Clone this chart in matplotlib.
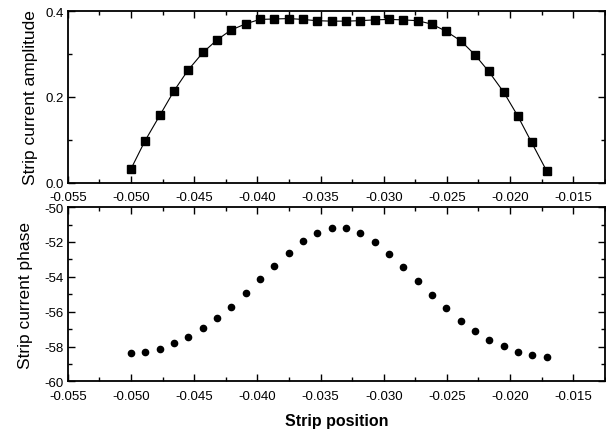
import numpy as np
import matplotlib.pyplot as plt
from matplotlib.ticker import MultipleLocator, FormatStrFormatter

plt.rcParams['font.family'] = ['Liberation Sans', 'DejaVu Sans']
plt.rcParams['axes.unicode_minus'] = False

# strip positions (shared by both panels)
position = [-0.0500, -0.0489, -0.0477, -0.0466, -0.0455, -0.0443, -0.0432, -0.0421,
            -0.0409, -0.0398, -0.0387, -0.0375, -0.0364, -0.0353, -0.0341, -0.0330,
            -0.0319, -0.0307, -0.0296, -0.0285, -0.0273, -0.0262, -0.0251, -0.0239,
            -0.0228, -0.0217, -0.0205, -0.0194, -0.0183, -0.0171]

amplitude = [0.032, 0.097, 0.158, 0.214, 0.262, 0.304, 0.333, 0.356, 0.371, 0.381,
             0.382, 0.383, 0.381, 0.378, 0.377, 0.377, 0.378, 0.380, 0.381, 0.380,
             0.378, 0.370, 0.354, 0.331, 0.299, 0.260, 0.211, 0.156, 0.094, 0.027]

phase = [-58.39, -58.30, -58.13, -57.82, -57.45, -56.95, -56.38, -55.71, -54.93, -54.14,
         -53.36, -52.63, -51.92, -51.48, -51.21, -51.21, -51.48, -52.01, -52.67, -53.43,
         -54.25, -55.06, -55.79, -56.52, -57.09, -57.61, -57.99, -58.30, -58.47, -58.60]


def style_axes(ax):
    ax.set_xlim(-0.055, -0.0125)
    ax.xaxis.set_major_locator(MultipleLocator(0.005))
    ax.xaxis.set_minor_locator(MultipleLocator(0.0025))
    ax.xaxis.set_major_formatter(FormatStrFormatter('%.3f'))
    ax.tick_params(which='both', direction='in', top=True, right=True,
                   labelsize=9.5, width=1.0)
    ax.tick_params(axis='x', pad=6)
    ax.tick_params(axis='y', pad=3)
    ax.tick_params(which='major', length=5)
    ax.tick_params(which='minor', length=3)
    for s in ax.spines.values():
        s.set_linewidth(1.3)


fig = plt.figure(figsize=(6.06, 4.39), dpi=100)

ax1 = fig.add_axes([0.112, 0.582, 0.886, 0.390])
ax1.plot(position, amplitude, '-', color='black', lw=0.8,
         marker='s', markersize=5.5)
ax1.set_ylim(0.0, 0.4)
ax1.yaxis.set_major_locator(MultipleLocator(0.2))
ax1.yaxis.set_minor_locator(MultipleLocator(0.1))
ax1.yaxis.set_major_formatter(FormatStrFormatter('%.1f'))
style_axes(ax1)
ax1.set_ylabel("Strip current amplitude", fontsize=12.5, labelpad=5)

ax2 = fig.add_axes([0.112, 0.129, 0.886, 0.397])
ax2.plot(position, phase, 'o', color='black', markersize=4.5)
ax2.set_ylim(-60, -50)
ax2.yaxis.set_major_locator(MultipleLocator(2))
ax2.yaxis.set_minor_locator(MultipleLocator(1))
style_axes(ax2)
ax2.set_ylabel("Strip current phase", fontsize=12.5, labelpad=8)
ax2.set_xlabel("Strip position", fontsize=11.5, fontweight='bold', labelpad=8)

fig.savefig('out.png', dpi=100)
